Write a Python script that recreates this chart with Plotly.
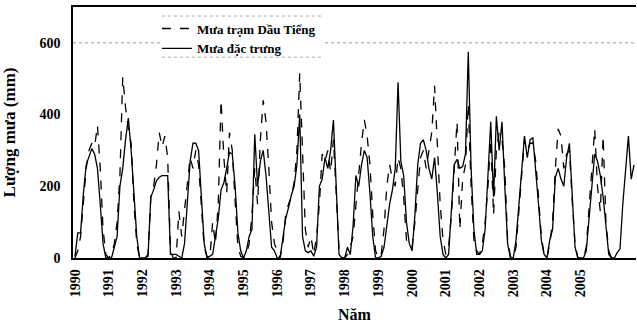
import plotly.graph_objects as go

year_labels = [str(y) for y in range(1990, 2006)]

# Monthly rainfall (mm), Jan 1990 onwards
mua_dau_tieng = [
    0, 20, 60, 150, 250, 300, 320, 310, 370, 250, 80, 10,      # 1990
    0, 10, 40, 100, 230, 505, 420, 360, 320, 150, 40, 0,       # 1991
    0, 0, 10, 170, 200, 260, 350, 310, 340, 280, 20, 0,        # 1992
    0, 130, 60, 140, 220, 280, 250, 300, 260, 150, 30, 5,      # 1993
    0, 100, 40, 150, 440, 280, 180, 350, 300, 160, 30, 5,      # 1994
    0, 10, 40, 120, 250, 150, 330, 440, 380, 250, 100, 40,     # 1995
    20, 0, 40, 120, 150, 170, 210, 300, 515, 300, 80, 30,      # 1996
    60, 10, 60, 150, 290, 270, 300, 240, 330, 180, 20, 0,      # 1997
    0, 10, 30, 60, 150, 250, 320, 385, 340, 260, 120, 20,      # 1998
    0, 10, 80, 200, 260, 220, 200, 280, 250, 170, 50, 30,      # 1999
    30, 100, 200, 280, 300, 250, 300, 350, 480, 320, 150, 50,  # 2000
    10, 30, 120, 250, 380, 80, 220, 260, 430, 200, 50, 20,     # 2001
    10, 40, 100, 200, 330, 120, 300, 350, 330, 250, 50, 5,     # 2002
    0, 30, 130, 240, 330, 300, 320, 320, 270, 170, 60, 10,     # 2003
    0, 40, 100, 250, 360, 340, 250, 290, 300, 160, 40, 0,      # 2004
    0, 0, 30, 150, 250, 360, 200, 130, 340, 100, 20, 0,        # 2005
]

mua_dac_trung = [
    5, 70, 70, 180, 260, 280, 305, 290, 250, 150, 40, 0,       # 1990
    0, 0, 30, 60, 200, 250, 330, 390, 300, 180, 60, 0,         # 1991
    0, 0, 5, 170, 190, 215, 225, 230, 230, 230, 10, 10,        # 1992
    10, 5, 0, 40, 150, 270, 320, 320, 300, 180, 40, 0,         # 1993
    5, 10, 60, 110, 190, 210, 250, 295, 290, 200, 70, 20,      # 1994
    0, 20, 60, 80, 345, 200, 270, 300, 230, 130, 30, 20,       # 1995
    0, 0, 50, 110, 140, 175, 200, 260, 400, 60, 20, 15,        # 1996
    20, 5, 30, 200, 220, 280, 250, 300, 385, 200, 10, 0,       # 1997
    0, 30, 10, 90, 230, 200, 260, 300, 280, 180, 60, 0,        # 1998
    0, 5, 30, 90, 150, 190, 250, 490, 270, 230, 100, 40,       # 1999
    20, 120, 260, 320, 330, 300, 250, 220, 280, 180, 60, 10,   # 2000
    0, 10, 150, 260, 275, 250, 255, 290, 575, 250, 80, 10,     # 2001
    10, 20, 80, 250, 380, 170, 395, 300, 380, 200, 40, 0,      # 2002
    0, 50, 150, 250, 340, 280, 330, 335, 250, 150, 50, 10,     # 2003
    0, 50, 80, 225, 250, 220, 200, 280, 320, 180, 30, 0,       # 2004
    0, 0, 20, 120, 200, 290, 270, 230, 170, 90, 10, 0,         # 2005
    0, 15, 25, 150, 250, 340, 220, 260,                        # 2006
]

serif = "Liberation Serif"

fig = go.Figure()
fig.add_trace(go.Scatter(
    x=list(range(len(mua_dau_tieng))), y=mua_dau_tieng,
    mode="lines", name="Mưa trạm Dầu Tiếng",
    line=dict(color="black", width=1.3, dash="dash"),
))
fig.add_trace(go.Scatter(
    x=list(range(len(mua_dac_trung))), y=mua_dac_trung,
    mode="lines", name="Mưa đặc trưng",
    line=dict(color="black", width=1.3),
))

fig.update_layout(
    width=637, height=323,
    margin=dict(l=73, r=1, t=7, b=65),
    paper_bgcolor="white", plot_bgcolor="white",
    font=dict(family=serif, color="black", size=12),
    showlegend=True,
    legend=dict(
        x=0.149, y=0.974, xanchor="left", yanchor="top",
        bgcolor="rgba(0,0,0,0)", borderwidth=0,
        font=dict(family=serif, size=13, color="black", weight="bold"),
        tracegroupgap=0,
    ),
    xaxis=dict(
        range=[-0.7, 199.7],
        automargin=False,
        tickmode="array",
        tickvals=[12 * i for i in range(len(year_labels))],
        ticktext=year_labels,
        tickangle=-90,
        tickfont=dict(family=serif, size=14, color="black", weight="bold"),
        showgrid=False, zeroline=False,
        showline=True, linecolor="black", linewidth=1.5, mirror=True,
        ticks="", ticklen=0, ticklabelstandoff=4,
        title=dict(text="<b>Năm</b>", font=dict(family=serif, size=16), standoff=18),
    ),
    yaxis=dict(
        range=[0, 700],
        automargin=False,
        tickvals=[0, 200, 400, 600],
        tickfont=dict(family=serif, size=14, color="black", weight="bold"),
        showgrid=False, zeroline=False,
        showline=True, linecolor="black", linewidth=1.5,
        ticks="", ticklen=0, ticklabelstandoff=8,
        title=dict(text="<b>Lượng mưa (mm)</b>", font=dict(family=serif, size=17), standoff=26),
    ),
)

fig.add_hline(y=600, line=dict(color="#999999", width=1, dash="dot"), layer="below")
# white patch + faint dotted borders behind the legend
fig.add_shape(type="rect", xref="paper", yref="paper", x0=0.158, x1=0.445, y0=0.8, y1=0.964,
              fillcolor="white", line=dict(width=0), layer="below")
for yy in (0.964, 0.8):
    fig.add_shape(type="line", xref="paper", yref="paper", x0=0.158, x1=0.445, y0=yy, y1=yy,
                  line=dict(color="#aaaaaa", width=1, dash="dot"), layer="below")

fig.write_html(
    "out.html",
    config={"displayModeBar": False},
    post_script="document.body.style.margin='0';document.body.style.overflow='hidden';",
)
